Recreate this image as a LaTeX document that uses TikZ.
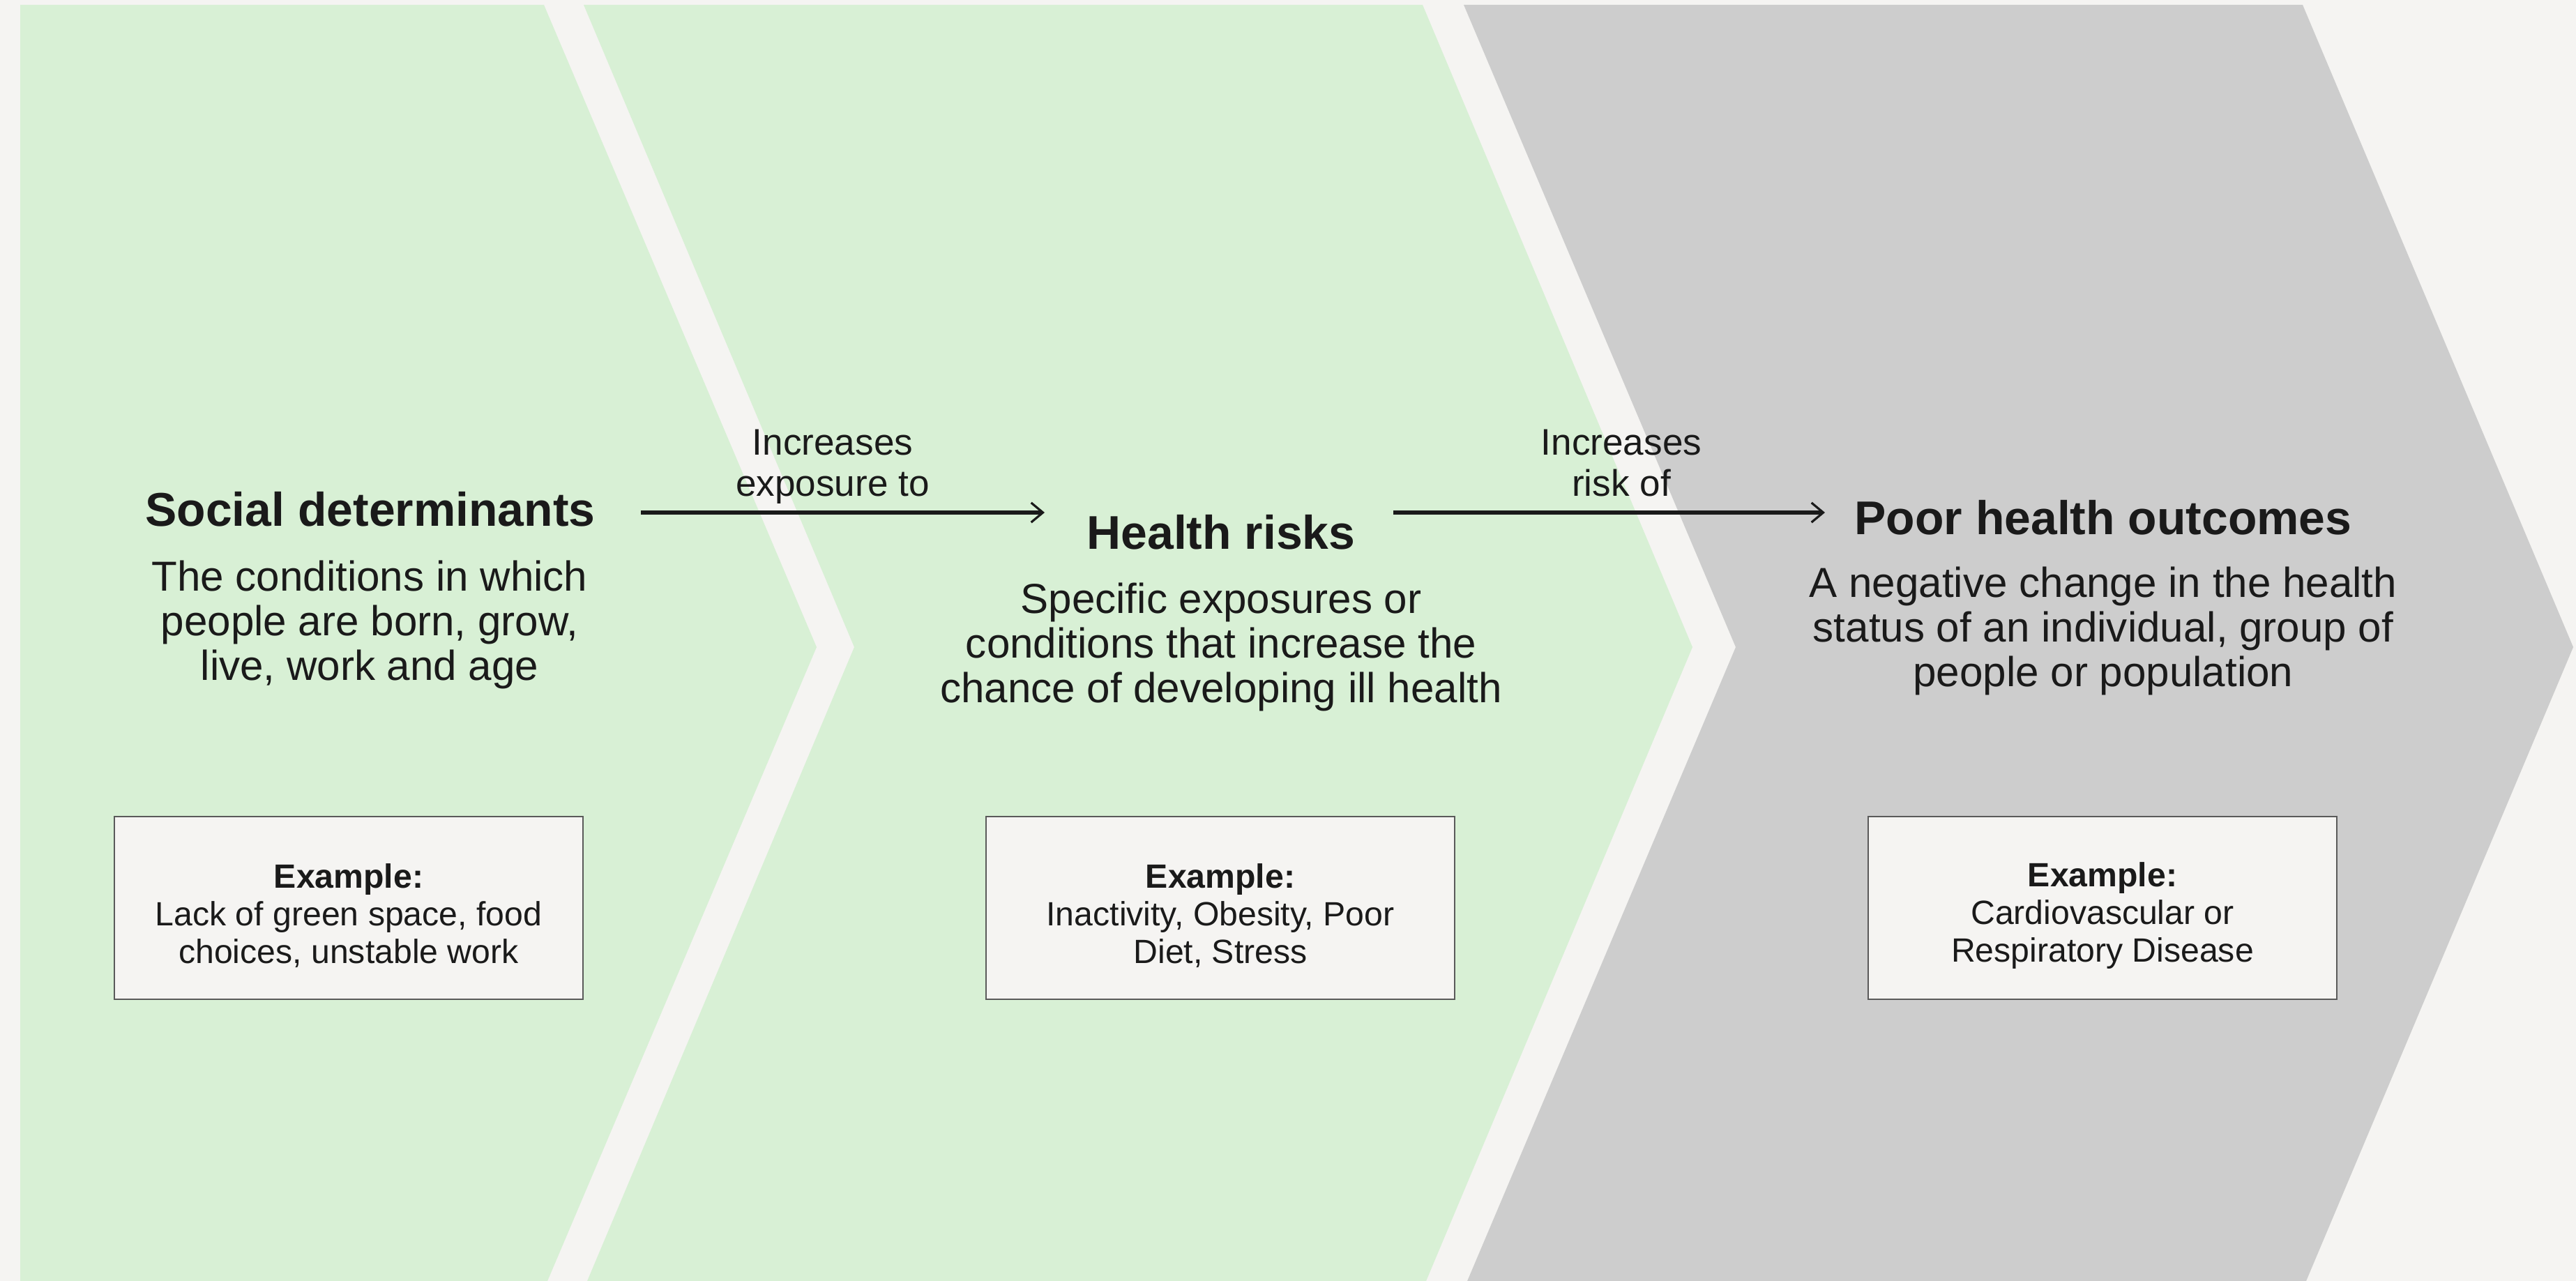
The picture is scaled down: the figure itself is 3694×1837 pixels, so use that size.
\documentclass[tikz,border=0pt]{standalone}
\usepackage{fontspec}
\setmainfont{Liberation Sans}
\usetikzlibrary{arrows.meta}
\definecolor{paper}{HTML}{F5F4F2}
\definecolor{leaf}{HTML}{D8F0D5}
\definecolor{stone}{HTML}{CDCDCD}
\definecolor{ink}{HTML}{1A1A1A}
\definecolor{rulegray}{HTML}{5A5A5A}
\begin{document}
\begin{tikzpicture}[x=0.01cm,y=-0.01cm,
  headline/.style={font=\fontsize{19.3}{22}\selectfont\bfseries, text=ink, inner sep=0pt},
  blurb/.style={font=\fontsize{17.1}{18.1}\selectfont, text=ink, align=center, inner sep=0pt},
  cue/.style={font=\fontsize{15.1}{16.8}\selectfont, text=ink, align=center, inner sep=0pt},
  examplebox/.style={draw=rulegray, line width=0.6pt, fill=paper, minimum width=6.71cm, minimum height=2.61cm, inner sep=0pt},
  exampletext/.style={font=\fontsize{13.7}{15.4}\selectfont, text=ink, align=center, inner sep=0pt},
  flow/.style={draw=ink, line width=1.7pt, -{Straight Barb[length=4.8pt,width=8pt,line width=0.9pt]}}
]
\useasboundingbox (0,0) rectangle (3694,1837);
\fill[paper] (0,0) rectangle (3694,1837);
\begin{scope}
\clip (0,0) rectangle (3694,1837);
% three chevron bands
\fill[leaf] (29,7) -- (780,7) -- (1171,928) -- (780,1849) -- (29,1849) -- cycle;
\fill[leaf] (837,7) -- (2040,7) -- (2427,928) -- (2040,1849) -- (837,1849) -- (1225,928) -- cycle;
\fill[stone] (2099,7) -- (3302,7) -- (3690,928) -- (3302,1849) -- (2099,1849) -- (2489,928) -- cycle;
\end{scope}

% stage headings and descriptions
\node[headline] (t1) at (531,730) {Social determinants};
\node[blurb] (d1) at (530,896) {The conditions in which\\people are born, grow,\\live, work and age};

\node[headline] (t2) at (1751,763) {Health risks};
\node[blurb] (d2) at (1751,928) {Specific exposures or\\conditions that increase the\\chance of developing ill health};

\node[headline] (t3) at (3016,742) {Poor health outcomes};
\node[blurb] (d3) at (3016,905) {A negative change in the health\\status of an individual, group of\\people or population};

% example boxes
\node[examplebox] (x1) at (500,1302) {};
\node[exampletext] (x1t) at (500,1313) {\textbf{Example:}\\Lack of green space, food\\choices, unstable work};
\node[examplebox] (x2) at (1750,1302) {};
\node[exampletext] (x2t) at (1750,1313) {\textbf{Example:}\\Inactivity, Obesity, Poor\\Diet, Stress};
\node[examplebox] (x3) at (3015,1302) {};
\node[exampletext] (x3t) at (3015,1313) {\textbf{Example:}\\Cardiovascular or\\Respiratory Disease};

% connectors with their labels
\coordinate (a1s) at (919,735);
\coordinate (a1e) at (1498,735);
\coordinate (a2s) at (1998,735);
\coordinate (a2e) at (2617,735);
\draw[flow] (a1s) -- (a1e);
\draw[flow] (a2s) -- (a2e);
\node[cue] (c1) at (1194,669) {Increases\\exposure to};
\node[cue] (c2) at (2325,664) {Increases\\risk of};
\end{tikzpicture}
\end{document}
